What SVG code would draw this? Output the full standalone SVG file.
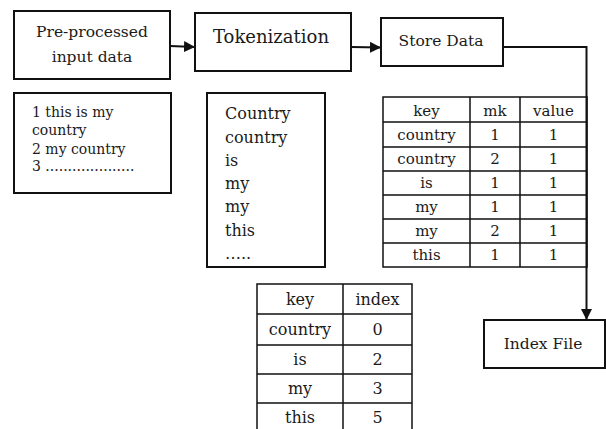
<svg xmlns="http://www.w3.org/2000/svg" width="606" height="429" viewBox="0 0 606 429">
  <style>
    .box { fill: #fff; stroke: #111; stroke-width: 2; }
    .grid { fill: none; stroke: #111; stroke-width: 1.5; }
    .wire { fill: none; stroke: #111; stroke-width: 2; }
    text { font-family: "DejaVu Serif", serif; fill: #1a1a1a; }
    .lbl { font-size: 15.5px; text-anchor: middle; }
    .big { font-size: 18px; text-anchor: middle; }
    .lst { font-size: 14px; }
    .tok { font-size: 16px; }
    .cell { font-size: 15px; text-anchor: middle; }
    .cell2 { font-size: 16px; text-anchor: middle; }
  </style>
  <defs>
    <marker id="arrow" viewBox="0 0 10 10" refX="10" refY="5" markerWidth="5.5" markerHeight="5.5" orient="auto" markerUnits="strokeWidth">
      <path d="M0,0 L10,5 L0,10 Z" fill="#111"/>
    </marker>
  </defs>
  <rect width="606" height="429" fill="#fff"/>

  <g id="connectors">
    <path class="wire" d="M170,46 L195,47" marker-end="url(#arrow)"/>
    <path class="wire" d="M351,47 L381,47.5" marker-end="url(#arrow)"/>
    <path class="wire" d="M503,47 L586.5,47 L586.5,320" marker-end="url(#arrow)"/>
  </g>

  <g id="preprocessed">
    <rect class="box" x="14" y="11" width="156" height="68"/>
    <text class="lbl" x="92" y="37">Pre-processed</text>
    <text class="lbl" x="92" y="62">input data</text>
  </g>

  <g id="tokenization">
    <rect class="box" x="195" y="13" width="156" height="58"/>
    <text class="big" x="271" y="43">Tokenization</text>
  </g>

  <g id="store-data">
    <rect class="box" x="381" y="18" width="122" height="48"/>
    <text class="lbl" x="441" y="46">Store Data</text>
  </g>

  <g id="index-file">
    <rect class="box" x="484" y="320" width="121" height="48"/>
    <text class="lbl" x="543" y="349">Index File</text>
  </g>

  <g id="input-lines">
    <rect class="box" x="14" y="93" width="157" height="100"/>
    <text class="lst" x="32" y="117">1 this is my</text>
    <text class="lst" x="32" y="135">country</text>
    <text class="lst" x="32" y="154">2 my country</text>
    <text class="lst" x="32" y="171">3 ....................</text>
  </g>

  <g id="tokens">
    <rect class="box" x="207" y="93" width="118" height="174"/>
    <text class="tok" x="225" y="119">Country</text>
    <text class="tok" x="225" y="143">country</text>
    <text class="tok" x="225" y="166">is</text>
    <text class="tok" x="225" y="189">my</text>
    <text class="tok" x="225" y="212">my</text>
    <text class="tok" x="225" y="236">this</text>
    <text class="tok" x="225" y="259">…..</text>
  </g>

  <g id="stored-table">
    <rect class="grid" x="383" y="97" width="204" height="170"/>
    <path class="grid" d="M470,97 V267 M520,97 V267 M383,122 H587 M383,147 H587 M383,171 H587 M383,195 H587 M383,219 H587 M383,243 H587"/>
    <text class="cell" x="426.5" y="116">key</text>
    <text class="cell" x="495" y="116">mk</text>
    <text class="cell" x="553.5" y="116">value</text>
    <text class="cell" x="426.5" y="140">country</text>
    <text class="cell" x="495" y="140">1</text>
    <text class="cell" x="553.5" y="140">1</text>
    <text class="cell" x="426.5" y="164">country</text>
    <text class="cell" x="495" y="164">2</text>
    <text class="cell" x="553.5" y="164">1</text>
    <text class="cell" x="426.5" y="188">is</text>
    <text class="cell" x="495" y="188">1</text>
    <text class="cell" x="553.5" y="188">1</text>
    <text class="cell" x="426.5" y="212">my</text>
    <text class="cell" x="495" y="212">1</text>
    <text class="cell" x="553.5" y="212">1</text>
    <text class="cell" x="426.5" y="236">my</text>
    <text class="cell" x="495" y="236">2</text>
    <text class="cell" x="553.5" y="236">1</text>
    <text class="cell" x="426.5" y="260">this</text>
    <text class="cell" x="495" y="260">1</text>
    <text class="cell" x="553.5" y="260">1</text>
  </g>

  <g id="index-table">
    <rect class="grid" x="257" y="284" width="155" height="150"/>
    <path class="grid" d="M343,284 V434 M257,314 H412 M257,345 H412 M257,374 H412 M257,403 H412"/>
    <text class="cell2" x="300" y="305">key</text>
    <text class="cell2" x="377.5" y="305">index</text>
    <text class="cell2" x="300" y="335">country</text>
    <text class="cell2" x="377.5" y="335">0</text>
    <text class="cell2" x="300" y="365">is</text>
    <text class="cell2" x="377.5" y="365">2</text>
    <text class="cell2" x="300" y="394">my</text>
    <text class="cell2" x="377.5" y="394">3</text>
    <text class="cell2" x="300" y="423">this</text>
    <text class="cell2" x="377.5" y="423">5</text>
  </g>
</svg>
